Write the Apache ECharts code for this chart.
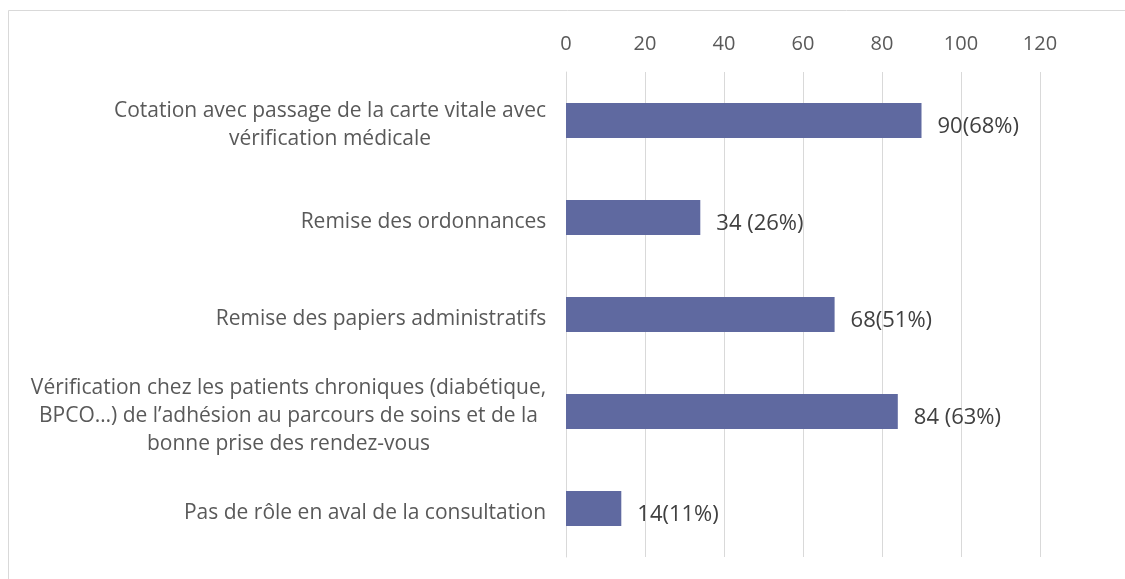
<!DOCTYPE html>
<html>
<head>
<meta charset="utf-8">
<script src="https://cdn.jsdelivr.net/npm/echarts@6/dist/echarts.min.js"></script>
<style>
html,body{margin:0;padding:0;background:#fff;}
#chart{width:1125px;height:579px;}
</style>
</head>
<body>
<div id="chart"></div>
<script>
const categories = [
  "Cotation avec passage de la carte vitale avec\nvérification médicale",
  "Remise des ordonnances",
  "Remise des papiers administratifs",
  "Vérification chez les patients chroniques (diabétique,\nBPCO…) de l’adhésion au parcours de soins et de la\nbonne prise des rendez-vous",
  "Pas de rôle en aval de la consultation"
];
const values = [90, 34, 68, 84, 14];
const valueLabels = ["90(68%)", "34 (26%)", "68(51%)", "84 (63%)", "14(11%)"];
const xTicks = {min: 0, max: 120, interval: 20};

const FONT = '"Open Sans"';
const CAT_SIZE = 21;
const ctx = document.createElement('canvas').getContext('2d');

const rich = {};
categories.forEach((c, i) => {
  ctx.font = CAT_SIZE + 'px ' + FONT;
  const maxW = Math.max(...c.split('\n').map(l => ctx.measureText(l).width));
  rich['c' + i] = {width: Math.ceil(maxW) + 1, align: 'center', fontSize: CAT_SIZE, fontFamily: FONT, color: '#595959', lineHeight: 28};
});

const chart = echarts.init(document.getElementById('chart'));
chart.setOption({
  animation: false,
  backgroundColor: '#fff',
  grid: {left: 566, right: 85, top: 72, bottom: 22},
  xAxis: {
    type: 'value', position: 'top', min: xTicks.min, max: xTicks.max, interval: xTicks.interval,
    axisLine: {show: false}, axisTick: {show: false},
    axisLabel: {color: '#595959', fontSize: 20, fontFamily: FONT, margin: 18},
    splitLine: {lineStyle: {color: '#d9d9d9', width: 1}}
  },
  yAxis: {
    type: 'category', inverse: true, data: categories,
    axisLine: {lineStyle: {color: '#d9d9d9', width: 1}}, axisTick: {show: false},
    axisLabel: {
      margin: 19,
      padding: [10, 0, 0, 0],
      formatter: (v, i) => v.split('\n').map(l => '{c' + i + '|' + l + '}').join('\n'),
      rich: rich
    }
  },
  series: [{
    type: 'bar', data: values, barWidth: 35,
    itemStyle: {color: '#5f69a0'},
    label: {
      show: true, position: 'right', distance: 16, offset: [0, 6],
      color: '#404040', fontSize: 22, fontFamily: FONT,
      formatter: p => valueLabels[p.dataIndex]
    }
  }],
  graphic: [
    {type: 'rect', shape: {x: 8.5, y: 10.5, width: 1300, height: 800}, style: {fill: 'none', stroke: '#d9d9d9', lineWidth: 1}, silent: true}
  ]
});
</script>
</body>
</html>
